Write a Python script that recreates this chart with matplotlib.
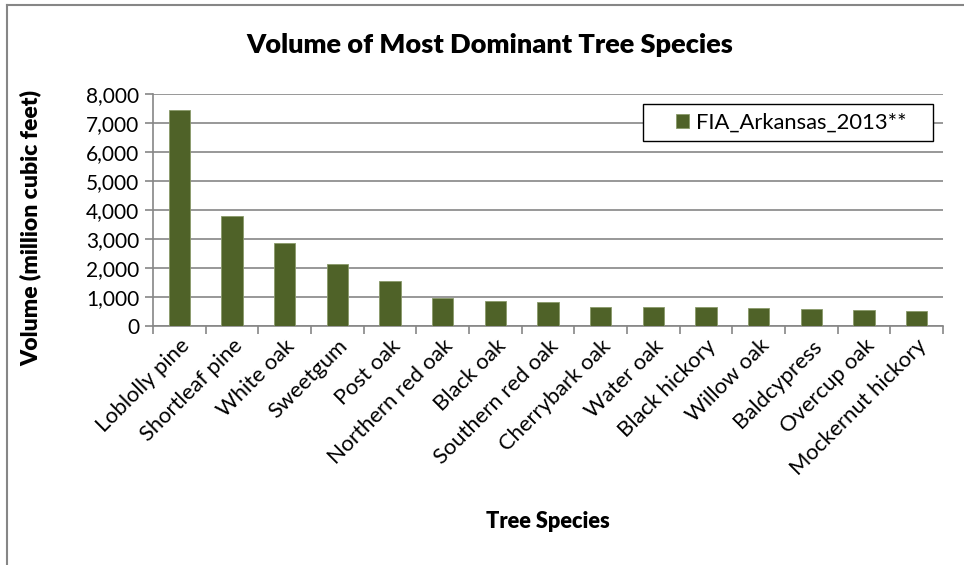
import matplotlib.pyplot as plt
from matplotlib.ticker import FuncFormatter
from matplotlib.lines import Line2D
from matplotlib.patches import Rectangle

plt.rcParams['font.family'] = ['Lato', 'DejaVu Sans']

species = ["Loblolly pine", "Shortleaf pine", "White oak", "Sweetgum", "Post oak",
           "Northern red oak", "Black oak", "Southern red oak", "Cherrybark oak",
           "Water oak", "Black hickory", "Willow oak", "Baldcypress", "Overcup oak",
           "Mockernut hickory"]
volume = [7450, 3780, 2870, 2130, 1540, 970, 860, 820, 660, 660, 645, 610, 586, 540, 517]
series_name = "FIA_Arkansas_2013**"

bar_color = "#4F6228"
grid_color = "#868686"

fig = plt.figure(figsize=(9.64, 5.65), dpi=100)
ax = fig.add_axes([153 / 964, 1 - 326 / 565, (943 - 153) / 964, (326 - 94) / 565])

x = list(range(len(species)))
ax.bar(x, volume, width=0.4, color=bar_color, edgecolor="#8a9a6a", linewidth=0.6,
       label=series_name, zorder=3)

ax.set_xlim(-0.5, len(species) - 0.5)
ax.set_ylim(0, 8000)
ax.set_yticks(range(0, 8001, 1000))
ax.yaxis.set_major_formatter(FuncFormatter(lambda v, p: f"{int(v):,}"))
ax.grid(axis="y", color=grid_color, linewidth=1.2, zorder=0)

# category boundaries carry the tick marks, labels sit at category centres
ax.set_xticks([i - 0.5 for i in range(len(species) + 1)])
ax.set_xticklabels([])
ax.set_xticks(x, minor=True)
ax.set_xticklabels(species, minor=True, rotation=45, ha="right",
                   rotation_mode="anchor", fontsize=15.8)
ax.tick_params(axis="x", which="minor", length=0, pad=7)
ax.tick_params(axis="x", which="major", length=6, width=1.2, color=grid_color)
ax.tick_params(axis="y", length=6, width=1.2, color=grid_color, labelsize=15, pad=4)

for side in ["top", "right"]:
    ax.spines[side].set_visible(False)
for side in ["left", "bottom"]:
    ax.spines[side].set_color(grid_color)
    ax.spines[side].set_linewidth(1.2)

ax.set_ylabel("Volume (million cubic feet)", fontsize=16.5, fontweight="heavy")
ax.yaxis.set_label_coords(42 / 964, 1 - 228 / 565, transform=fig.transFigure)
fig.text(548 / 964, 1 - 521 / 565, "Tree Species", fontsize=15.7, fontweight="heavy",
         ha="center", va="center")
fig.text(490 / 964, 1 - 45 / 565, "Volume of Most Dominant Tree Species", fontsize=19.5,
         fontweight="heavy", ha="center", va="center")

# legend entry without its own frame; the box is drawn separately with wider side padding
ax.add_patch(Rectangle((643 / 964, 1 - 141 / 565), 290 / 964, 37 / 565,
                       transform=fig.transFigure, facecolor="white",
                       edgecolor="black", linewidth=1.0, zorder=4, clip_on=False))
leg = ax.legend(loc="center left", bbox_to_anchor=(676 / 964, 1 - 122.5 / 565),
                bbox_transform=fig.transFigure, fontsize=15.8, frameon=False,
                handlelength=0.6, handleheight=0.6, handletextpad=0.3,
                borderpad=0, borderaxespad=0)
leg.set_zorder(5)

# outer chart border (left and top edges)
fig.add_artist(Line2D([6.5 / 964, 6.5 / 964], [0, 1 - 5 / 565], color=grid_color, linewidth=1.5))
fig.add_artist(Line2D([6.5 / 964, 1], [1 - 5 / 565, 1 - 5 / 565], color=grid_color, linewidth=1.5))

fig.savefig("out.png", dpi=100)
